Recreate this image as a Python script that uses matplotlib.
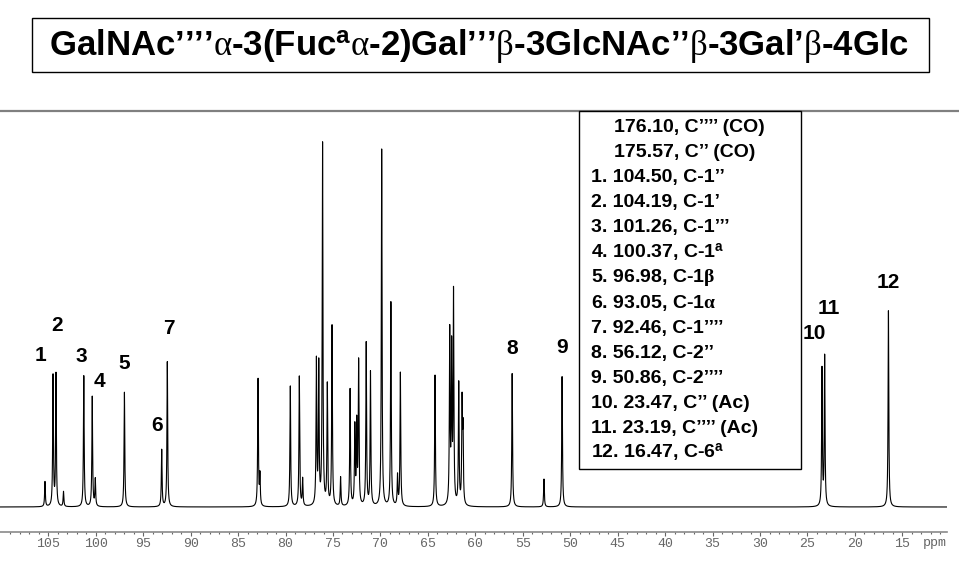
import numpy as np
import matplotlib
matplotlib.use("Agg")
import matplotlib.pyplot as plt
from matplotlib.patches import Rectangle
from matplotlib.lines import Line2D

# ---------------- data ----------------
# 13C peak positions (ppm) and heights (relative intensity)
peak_ppm = [105.35, 104.50, 104.19, 103.40, 101.26, 100.37, 100.05, 96.98,
            93.05, 92.46,
            82.90, 82.70, 79.50, 78.55, 78.20, 76.75, 76.50, 76.10,
            75.60, 75.10, 74.20, 73.20, 72.70, 72.50, 72.30, 71.50, 71.05,
            69.87, 68.90, 68.20, 67.90, 64.25, 62.70, 62.50, 62.30, 61.75,
            61.40, 61.30,
            56.12, 52.77, 50.86, 23.47, 23.19, 16.47]
peak_height = [25, 131, 132, 15, 131, 110, 27, 115,
               57, 145,
               128, 30, 121, 130, 27, 145, 140, 362,
               120, 180, 29, 117, 78, 80, 143, 163, 134,
               357, 204, 30, 134, 132, 172, 152, 210, 122,
               100, 70,
               134, 28, 131, 137, 150, 197]

# numbered peak labels: text, label ppm, label height
label_text = ["1", "2", "3", "4", "5", "6", "7", "8", "9", "10", "11", "12"]
label_ppm = [105.8, 104.1, 101.48, 99.63, 96.99, 93.58, 92.31, 56.17, 50.90, 24.32, 22.74, 16.49]
label_y = [152, 182, 151, 126, 144, 82, 179, 159, 160, 174, 199, 225]

title_text = ("GalNAc’’’’$\\alpha$-3(Fuc$^{\\mathrm{a}}\\alpha$-2)Gal’’’$\\beta$"
              "-3GlcNAc’’$\\beta$-3Gal’$\\beta$-4Glc")

legend_lines = [
    "176.10, C’’’’ (CO)",
    "175.57, C’’ (CO)",
    "1. 104.50, C-1’’",
    "2. 104.19, C-1’",
    "3. 101.26, C-1’’’",
    "4. 100.37, C-1$^{\\mathrm{a}}$",
    "5. 96.98, C-1$\\mathbf{\\beta}$",
    "6. 93.05, C-1$\\mathbf{\\alpha}$",
    "7. 92.46, C-1’’’’",
    "8. 56.12, C-2’’",
    "9. 50.86, C-2’’’’",
    "10. 23.47, C’’ (Ac)",
    "11. 23.19, C’’’’ (Ac)",
    "12. 16.47, C-6$^{\\mathrm{a}}$",
]
legend_indent = [True, True] + [False] * 12

major_ticks = list(range(15, 106, 5))
xunit = "ppm"

# ---------------- style ----------------
plt.rcParams["mathtext.fontset"] = "custom"
plt.rcParams["mathtext.rm"] = "Liberation Sans:bold"
plt.rcParams["mathtext.it"] = "Liberation Serif"
plt.rcParams["mathtext.bf"] = "Liberation Serif:bold"
plt.rcParams["font.family"] = ["Liberation Sans", "DejaVu Sans"]

W, H = 959, 567
fig = plt.figure(figsize=(W / 100, H / 100), dpi=100)
fig.patch.set_facecolor("white")

def fx(px):
    return px / W

def fy(py):
    return (H - py) / H

ax = fig.add_axes([0, fy(531.7), fx(946.7), fy(112) - fy(531.7)])
ax.set_xlim(110.09, 10.33)
ax.set_ylim(-24.7, 395)

# spectrum built from the Lorentzian lines
ppm = np.linspace(110.09, 10.33, 14000)
gamma = 0.045
spec = np.zeros_like(ppm)
for p, h in zip(peak_ppm, peak_height):
    spec += h * gamma**2 / ((ppm - p) ** 2 + gamma**2)
ax.plot(ppm, spec, color="black", lw=0.8)

for t, px, py in zip(label_text, label_ppm, label_y):
    ax.text(px, py, t, ha="center", va="center", fontsize=15,
            fontweight="bold", color="black")

for s in ["top", "left", "right"]:
    ax.spines[s].set_visible(False)
ax.spines["bottom"].set_color("#8a8a8a")
ax.spines["bottom"].set_linewidth(1.2)
ax.set_yticks([])
ax.set_xticks(major_ticks)
ax.set_xticklabels([str(v) for v in major_ticks], family="Liberation Mono",
                   fontsize=9.5, color="#666666")
ax.set_xticks(np.arange(11, 110, 1), minor=True)
ax.tick_params(axis="x", which="major", direction="out", length=3,
               width=0.8, color="#666666", pad=1.5)
ax.tick_params(axis="x", which="minor", direction="out", length=1.2,
               width=0.8, color="#666666")
ax.text(12.8, -0.028, xunit, transform=ax.get_xaxis_transform(),
        ha="left", va="center", family="Liberation Mono", fontsize=9.5,
        color="#666666")

# separator line and boxes
fig.add_artist(Line2D([0, 1], [fy(110.7), fy(110.7)], transform=fig.transFigure,
                      color="#808080", lw=1.6, zorder=4))
fig.add_artist(Rectangle((fx(32.3), fy(72)), fx(929.3) - fx(32.3), fy(18.3) - fy(72),
                         transform=fig.transFigure, facecolor="white",
                         edgecolor="black", lw=1.0, zorder=5))
fig.text(fx(479.5), fy(46), title_text, ha="center", va="center",
         fontsize=25, fontweight="bold", zorder=6)

fig.add_artist(Rectangle((fx(579.3), fy(469)), fx(800.5) - fx(579.3), fy(110.7) - fy(469),
                         transform=fig.transFigure, facecolor="white",
                         edgecolor="black", lw=1.0, zorder=5))
for i, (line, ind) in enumerate(zip(legend_lines, legend_indent)):
    yc = 127.7 + i * 25.05
    fig.text(fx(614.3 if ind else 590.7), fy(yc), line, ha="left", va="center",
             fontsize=14, fontweight="bold", zorder=6)

fig.savefig("out.png", dpi=100, facecolor="white")
